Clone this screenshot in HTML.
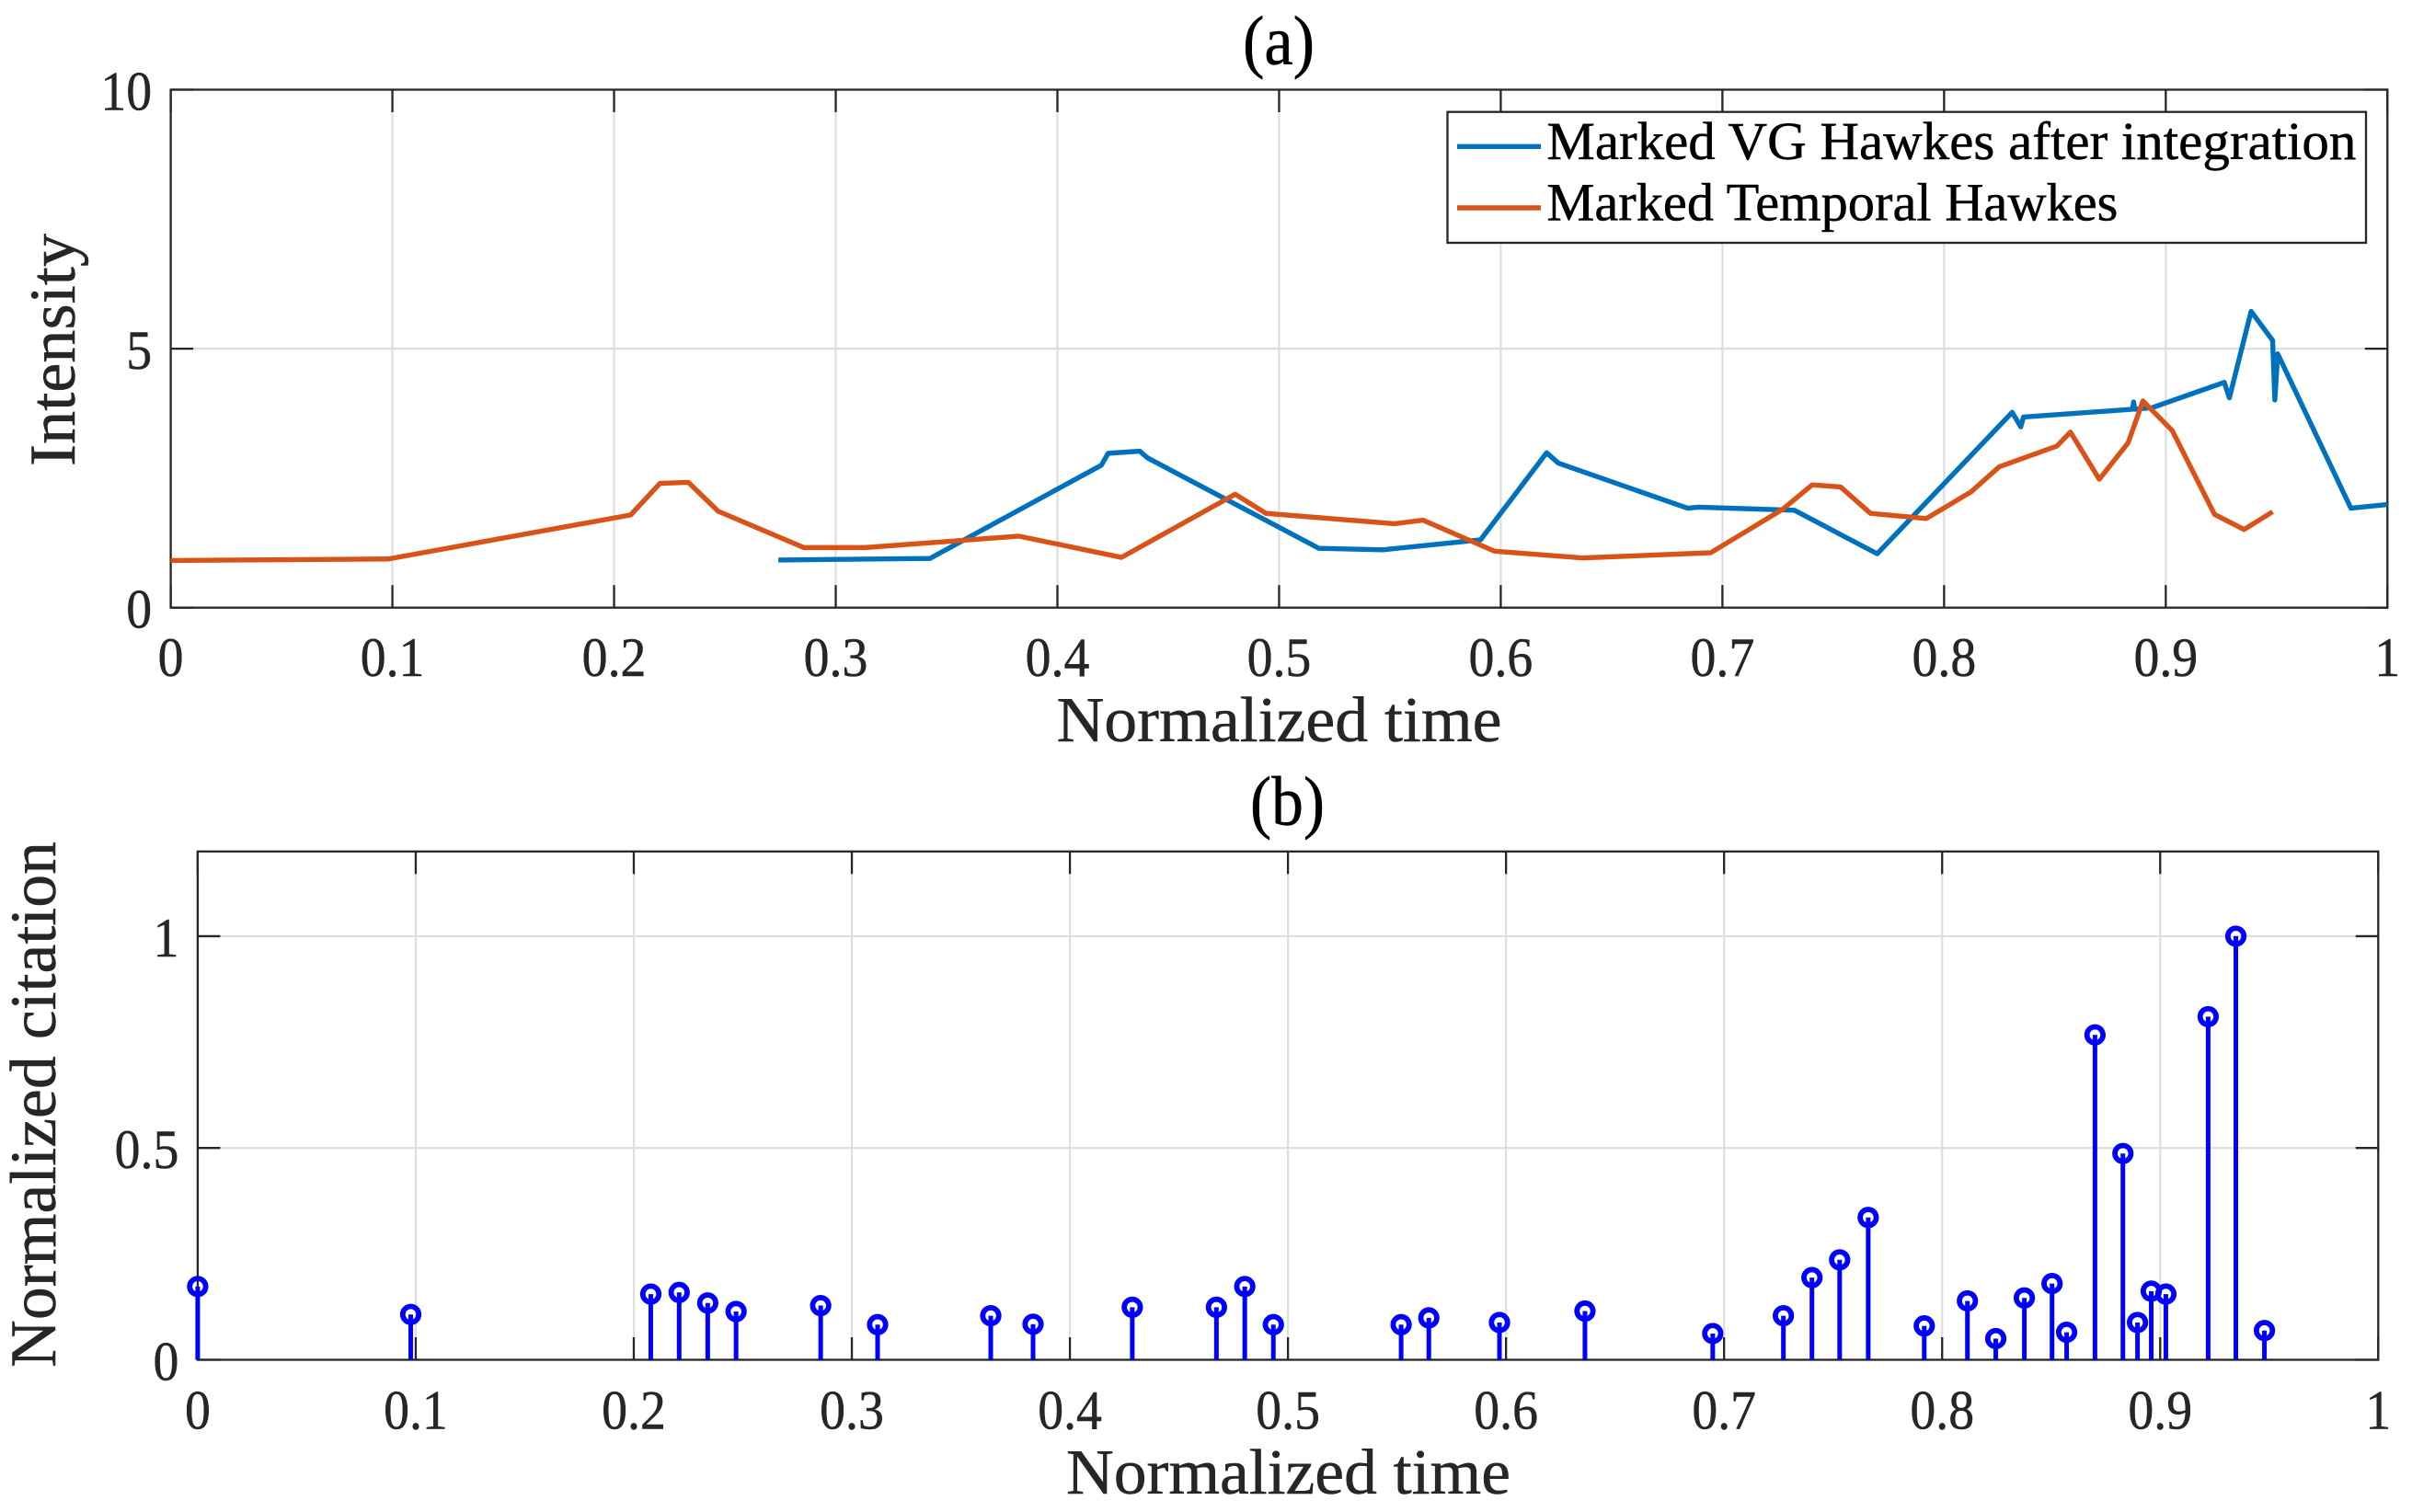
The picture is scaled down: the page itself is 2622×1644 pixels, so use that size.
<!DOCTYPE html>
<html lang="en">
<head>
<meta charset="utf-8">
<title>Intensity and normalized citation over time</title>
<style>
  html, body { margin: 0; padding: 0; background: #fff; }
  svg { display: block; }
  text { font-family: "Liberation Serif", serif; fill: #262626; stroke: #262626; stroke-width: 0.5; }
  .dark { fill: #000; stroke: #000; }
</style>
</head>
<body>
<svg id="figure" xmlns="http://www.w3.org/2000/svg" width="2622" height="1644" viewBox="0 0 2622 1644">
  <rect x="0" y="0" width="2622" height="1644" fill="#fff"/>
  <g id="panelA"></g>
  <g id="panelB"></g>

  <text class="dark" x="1351" y="70" font-size="76" textLength="78" lengthAdjust="spacingAndGlyphs">(a)</text>
  <text x="1148.5" y="806" font-size="70" textLength="484" lengthAdjust="spacingAndGlyphs">Normalized time</text>
  <text transform="translate(81,507) rotate(-90)" font-size="71" textLength="253" lengthAdjust="spacingAndGlyphs">Intensity</text>

  <text class="dark" x="1359" y="897" font-size="76" textLength="81" lengthAdjust="spacingAndGlyphs">(b)</text>
  <text x="1159" y="1624" font-size="70" textLength="483" lengthAdjust="spacingAndGlyphs">Normalized time</text>
  <text transform="translate(60,1487) rotate(-90)" font-size="71" textLength="572" lengthAdjust="spacingAndGlyphs">Normalized citation</text>

  <g id="legend">
    <rect x="1573.5" y="121.7" width="998.5" height="142.3" fill="#fff" stroke="#262626" stroke-width="2.3"/>
    <line x1="1584" y1="159.3" x2="1675" y2="159.3" stroke="#0072BD" stroke-width="5.4"/>
    <text class="dark" x="1681.4" y="173" font-size="58" textLength="880" lengthAdjust="spacingAndGlyphs">Marked VG Hawkes after integration</text>
    <line x1="1584" y1="226" x2="1675" y2="226" stroke="#D95319" stroke-width="5.4"/>
    <text class="dark" x="1681.4" y="239.5" font-size="58" textLength="621" lengthAdjust="spacingAndGlyphs">Marked Temporal Hawkes</text>
  </g>
</svg>
<script>
// ---------- Data ----------
const xTickValues = [0, 0.1, 0.2, 0.3, 0.4, 0.5, 0.6, 0.7, 0.8, 0.9, 1];
const xTickLabels = ["0", "0.1", "0.2", "0.3", "0.4", "0.5", "0.6", "0.7", "0.8", "0.9", "1"];
const intensityTickValues = [0, 5, 10];
const intensityTickLabels = ["0", "5", "10"];
const citationTickValues = [0, 0.5, 1];
const citationTickLabels = ["0", "0.5", "1"];

const vgTimes = [0.2741, 0.3425, 0.4198, 0.4229, 0.4372, 0.4407, 0.518, 0.5468, 0.5909, 0.6207, 0.626, 0.6843, 0.6891, 0.7325, 0.7698, 0.8307, 0.8346, 0.8358, 0.8850, 0.8855, 0.8860, 0.8938, 0.9264, 0.9287, 0.9385, 0.9482, 0.9492, 0.9505, 0.9835, 1.0];
const vgValues = [0.92, 0.95, 2.75, 2.98, 3.02, 2.89, 1.145, 1.117, 1.31, 2.99, 2.79, 1.92, 1.94, 1.88, 1.04, 3.77, 3.49, 3.68, 3.83, 3.97, 3.83, 3.86, 4.35, 4.05, 5.72, 5.16, 4.01, 4.9, 1.92, 1.99];

const temporalTimes = [0, 0.0982, 0.2075, 0.2207, 0.2335, 0.247, 0.2856, 0.3133, 0.3637, 0.3827, 0.4289, 0.4802, 0.4941, 0.552, 0.5649, 0.5972, 0.6371, 0.6947, 0.7272, 0.7405, 0.7533, 0.7668, 0.792, 0.8123, 0.8249, 0.8509, 0.857, 0.87, 0.883, 0.8897, 0.9029, 0.922, 0.9353, 0.9482];
const temporalValues = [0.91, 0.94, 1.79, 2.40, 2.42, 1.86, 1.16, 1.16, 1.32, 1.38, 0.97, 2.19, 1.82, 1.62, 1.69, 1.09, 0.96, 1.06, 1.9, 2.37, 2.33, 1.82, 1.72, 2.24, 2.72, 3.12, 3.39, 2.48, 3.18, 3.99, 3.42, 1.8, 1.51, 1.85];

const citationTimes = [0, 0.0977, 0.2078, 0.2208, 0.2339, 0.2469, 0.2857, 0.3118, 0.3637, 0.3831, 0.4286, 0.4672, 0.4802, 0.4933, 0.5519, 0.5646, 0.597, 0.6362, 0.6948, 0.7272, 0.7403, 0.753, 0.7661, 0.7918, 0.8116, 0.8246, 0.8377, 0.8504, 0.8571, 0.8701, 0.8829, 0.8896, 0.8959, 0.9026, 0.922, 0.9347, 0.9478];
const citationValues = [0.173, 0.107, 0.155, 0.159, 0.134, 0.114, 0.128, 0.083, 0.104, 0.084, 0.124, 0.124, 0.173, 0.083, 0.083, 0.099, 0.088, 0.115, 0.062, 0.104, 0.194, 0.236, 0.336, 0.08, 0.139, 0.05, 0.146, 0.18, 0.065, 0.767, 0.487, 0.088, 0.162, 0.155, 0.81, 1.0, 0.069];

// ---------- Axis geometry ----------
const A = { left: 185.6, right: 2595.3, top: 97.5, bottom: 660.7, yMax: 10 };
const B = { left: 214.9, right: 2585.3, top: 925.8, bottom: 1478.5, yMax: 1.2 };
function xAxis(p, v) { return p.left + v * (p.right - p.left); }
function yAxis(p, v) { return p.bottom - (v / p.yMax) * (p.bottom - p.top); }

const NS = "http://www.w3.org/2000/svg";
function make(tag, attrs, parent) {
  const el = document.createElementNS(NS, tag);
  for (const k in attrs) el.setAttribute(k, attrs[k]);
  parent.appendChild(el);
  return el;
}

function drawFrame(p, group, yTicks, yLabels, prefix, labelBaseline) {
  // grid
  xTickValues.forEach(function (v) {
    if (v === 0 || v === 1) return;
    const g = make("line", { x1: xAxis(p, v), x2: xAxis(p, v), y1: p.top, y2: p.bottom, stroke: "#dedede", "stroke-width": 2.2 }, group);
    
    
  });
  yTicks.forEach(function (v) {
    if (v === 0 || v === p.yMax) return;
    const g = make("line", { x1: p.left, x2: p.right, y1: yAxis(p, v), y2: yAxis(p, v), stroke: "#dedede", "stroke-width": 2.2 }, group);
    
    
  });
  // ticks
  const tickLen = 24.5;
  xTickValues.forEach(function (v, i) {
    const x = xAxis(p, v);
    const t1 = make("line", { x1: x, x2: x, y1: p.bottom, y2: p.bottom - tickLen, stroke: "#262626", "stroke-width": 2.3 }, group);
    
    
    const t2 = make("line", { x1: x, x2: x, y1: p.top, y2: p.top + tickLen, stroke: "#262626", "stroke-width": 2.3 }, group);
    
    
    const lab = make("text", { transform: "translate(" + x + "," + labelBaseline + ") scale(0.93,1)", "font-size": 60, "text-anchor": "middle" }, group);
    
    
    lab.textContent = xTickLabels[i];
  });
  yTicks.forEach(function (v, i) {
    const y = yAxis(p, v);
    const t1 = make("line", { x1: p.left, x2: p.left + tickLen, y1: y, y2: y, stroke: "#262626", "stroke-width": 2.3 }, group);
    
    
    const t2 = make("line", { x1: p.right, x2: p.right - tickLen, y1: y, y2: y, stroke: "#262626", "stroke-width": 2.3 }, group);
    
    
    const lab = make("text", { transform: "translate(" + (p.left - 20.5) + "," + (y + 22) + ") scale(0.93,1)", "font-size": 60, "text-anchor": "end" }, group);
    
    
    lab.textContent = yLabels[i];
  });
  // box
  const box = make("rect", { x: p.left, y: p.top, width: p.right - p.left, height: p.bottom - p.top, fill: "none", stroke: "#262626", "stroke-width": 2.3 }, group);
  
  
}

function drawLine(p, group, xs, ys, color, name) {
  const pts = xs.map(function (x, i) { return xAxis(p, x).toFixed(2) + "," + yAxis(p, ys[i]).toFixed(2); }).join(" ");
  const line = make("polyline", { points: pts, fill: "none", stroke: color, "stroke-width": 5.4, "stroke-linejoin": "round" }, group);
  
  
}

// ---------- Panel A ----------
const panelA = document.getElementById("panelA");
drawFrame(A, panelA, intensityTickValues, intensityTickLabels, "panel-a", 735);
drawLine(A, panelA, vgTimes, vgValues, "#0072BD", "marked-vg-hawkes-line");
drawLine(A, panelA, temporalTimes, temporalValues, "#D95319", "marked-temporal-hawkes-line");

// ---------- Panel B ----------
const panelB = document.getElementById("panelB");
drawFrame(B, panelB, citationTickValues, citationTickLabels, "panel-b", 1553.5);
citationTimes.forEach(function (t, i) {
  const x = xAxis(B, t);
  const y = yAxis(B, citationValues[i]);
  const stem = make("line", { x1: x, x2: x, y1: B.bottom, y2: y, stroke: "#0000FF", "stroke-width": 5 }, panelB);
  
  
  const dot = make("circle", { cx: x, cy: y, r: 8.7, fill: "none", stroke: "#0000FF", "stroke-width": 5.8 }, panelB);
  
  
});
</script>
</body>
</html>
